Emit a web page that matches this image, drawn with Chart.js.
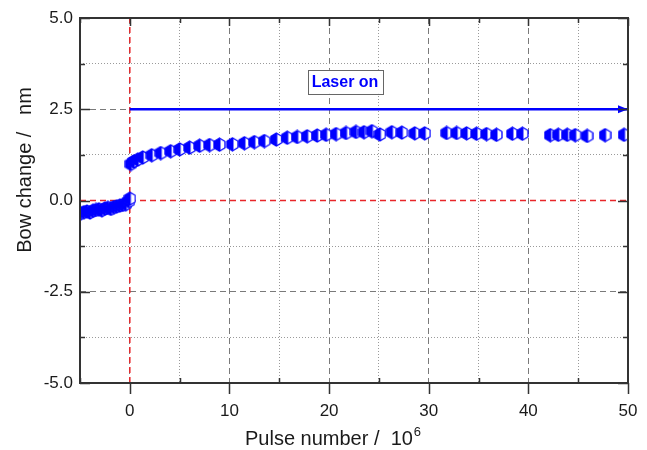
<!DOCTYPE html>
<html>
<head>
<meta charset="utf-8">
<script src="https://cdn.jsdelivr.net/npm/chart.js@4.4.0/dist/chart.umd.min.js"></script>
<style>
  html, body { margin: 0; padding: 0; background: #fff; }
  #wrap { width: 647px; height: 450px; position: relative; }
</style>
</head>
<body>
<div id="wrap"><canvas id="bowChart"></canvas></div>
<script>
// pulse number (10^6) and bow change (nm)
const preX = [-4.9, -4.6, -4.3, -4.0, -3.7, -3.4, -3.1, -2.8, -2.5, -2.2, -1.9, -1.6, -1.3, -1.0, -0.7, -0.4, -0.1, 0.0];
const preY = [-0.35, -0.32, -0.30, -0.33, -0.28, -0.26, -0.24, -0.27, -0.22, -0.20, -0.23, -0.18, -0.16, -0.14, -0.12, -0.10, -0.02, 0.05];

const postX = [0.1, 0.4, 0.8, 1.3, 2.2, 3.1, 4.1, 5.0, 6.0, 7.0, 8.0, 9.0, 10.3, 11.5, 12.5, 13.5, 14.7, 15.8, 16.8, 17.8, 18.8, 19.7, 20.7, 21.7, 22.7, 23.5, 24.3, 25.1, 26.3, 27.3, 28.6, 29.6, 31.8, 32.8, 33.8, 34.8, 35.8, 36.8, 38.4, 39.4, 42.2, 43.0, 43.9, 44.7, 45.9, 47.7, 49.6];
const postY = [1.00, 1.07, 1.12, 1.18, 1.24, 1.30, 1.35, 1.40, 1.45, 1.50, 1.52, 1.53, 1.54, 1.57, 1.60, 1.63, 1.67, 1.72, 1.74, 1.76, 1.78, 1.80, 1.82, 1.85, 1.88, 1.87, 1.90, 1.81, 1.87, 1.86, 1.84, 1.84, 1.85, 1.85, 1.84, 1.83, 1.82, 1.80, 1.83, 1.83, 1.79, 1.80, 1.80, 1.79, 1.77, 1.79, 1.80];

const xMin = -5, xMax = 50;
const yMin = -5, yMax = 5;
const laserLine = [{ x: 0, y: 2.5 }, { x: 50, y: 2.5 }];
const laserText = 'Laser on';

function toPoints(xs, ys) {
    return xs.map(function (x, i) { return { x: x, y: ys[i] }; });
}

// half filled hexagon marker
function makeMarker() {
    const c = document.createElement('canvas');
    c.width = 13; c.height = 15;
    const g = c.getContext('2d');
    const cx = 6.5, cy = 7.5, rx = 5.5, ry = 6.5;
    const pts = [[cx, cy - ry], [cx + rx, cy - ry / 2], [cx + rx, cy + ry / 2], [cx, cy + ry], [cx - rx, cy + ry / 2], [cx - rx, cy - ry / 2]];
    g.beginPath();
    pts.forEach(function (p, i) { if (i) g.lineTo(p[0], p[1]); else g.moveTo(p[0], p[1]); });
    g.closePath();
    g.fillStyle = '#ffffff';
    g.fill();
    g.save();
    g.clip();
    g.fillStyle = '#0000ff';
    g.fillRect(0, 0, cx + 1, c.height);
    g.restore();
    g.lineWidth = 1.3;
    g.strokeStyle = '#0000ff';
    g.stroke();
    return c;
}

function isMajor(v, step) {
    return Math.abs(v / step - Math.round(v / step)) < 1e-6;
}

const framePlugin = {
    id: 'frame',
    afterDraw: function (chart) {
        const ctx = chart.ctx;
        const a = chart.chartArea;
        const xs = chart.scales.x, ys = chart.scales.y;
        ctx.save();
        // arrow head
        const ax = xs.getPixelForValue(laserLine[1].x), ay = ys.getPixelForValue(laserLine[1].y);
        ctx.fillStyle = '#0000ff';
        ctx.beginPath();
        ctx.moveTo(ax, ay);
        ctx.lineTo(ax - 10, ay - 4);
        ctx.lineTo(ax - 10, ay + 4);
        ctx.closePath();
        ctx.fill();

        // frame
        ctx.strokeStyle = '#333333';
        ctx.lineWidth = 2;
        ctx.strokeRect(a.left, a.top, a.right - a.left, a.bottom - a.top);
        ctx.lineWidth = 1.5;
        ctx.beginPath();
        for (let v = xMin; v <= xMax + 1e-9; v += 5) {
            const px = Math.round(xs.getPixelForValue(v)) + 0.5;
            const major = isMajor(v, 10);
            if (major) {
                ctx.moveTo(px, a.bottom); ctx.lineTo(px, a.bottom + 11);
                ctx.moveTo(px, a.top); ctx.lineTo(px, a.top + 8);
            } else {
                ctx.moveTo(px, a.bottom); ctx.lineTo(px, a.bottom - 5);
                ctx.moveTo(px, a.top); ctx.lineTo(px, a.top + 5);
            }
        }
        for (let v = yMin; v <= yMax + 1e-9; v += 1.25) {
            const py = Math.round(ys.getPixelForValue(v)) + 0.5;
            const len = isMajor(v, 2.5) ? 10 : 5;
            ctx.moveTo(a.left, py); ctx.lineTo(a.left + len, py);
            ctx.moveTo(a.right, py); ctx.lineTo(a.right - len, py);
        }
        ctx.stroke();

        // laser label
        const lx = xs.getPixelForValue(21.6), ly = ys.getPixelForValue(3.25);
        ctx.font = 'bold 16px "Liberation Sans", Arial, sans-serif';
        ctx.textAlign = 'center';
        ctx.textBaseline = 'middle';
        const w = ctx.measureText(laserText).width;
        ctx.fillStyle = '#ffffff';
        ctx.fillRect(lx - w / 2 - 4, ly - 12, w + 8, 24);
        ctx.strokeStyle = '#666666';
        ctx.lineWidth = 1;
        ctx.strokeRect(Math.round(lx - w / 2 - 4) + 0.5, Math.round(ly - 12) + 0.5, Math.round(w + 8), 24);
        ctx.fillStyle = '#0000ff';
        ctx.fillText(laserText, lx, ly + 1);

        // axis titles
        ctx.fillStyle = '#1a1a1a';
        ctx.font = '20px "Liberation Sans", Arial, sans-serif';
        ctx.textAlign = 'left';
        ctx.textBaseline = 'alphabetic';
        const t1 = 'Pulse number /  10';
        ctx.fillText(t1, 245, 445);
        const t1w = ctx.measureText(t1).width;
        ctx.font = '13px "Liberation Sans", Arial, sans-serif';
        ctx.fillText('6', 245 + t1w + 1, 436);

        ctx.font = '20px "Liberation Sans", Arial, sans-serif';
        ctx.translate(31, 170);
        ctx.rotate(-Math.PI / 2);
        ctx.textAlign = 'center';
        ctx.fillText('Bow change /   nm', 0, 0);
        ctx.restore();
    }
};

const tickFont = { family: '"Liberation Sans", Arial, sans-serif', size: 17 };

new Chart(document.getElementById('bowChart'), {
    type: 'scatter',
    data: {
        datasets: [
            {
                label: 'before',
                data: toPoints(preX, preY),
                pointStyle: makeMarker(),
                order: 0
            },
            {
                label: 'after',
                data: toPoints(postX, postY),
                pointStyle: makeMarker(),
                order: 0
            },
            {
                label: 'laser',
                type: 'line',
                data: laserLine,
                borderColor: '#0000ff',
                borderWidth: 2.5,
                pointRadius: 0,
                order: 1
            },
            {
                label: 'x0',
                type: 'line',
                data: [{ x: 0, y: yMin }, { x: 0, y: yMax }],
                borderColor: '#e8262a',
                borderWidth: 1.5,
                borderDash: [6, 4],
                pointRadius: 0,
                order: 2
            },
            {
                label: 'y0',
                type: 'line',
                data: [{ x: xMin, y: 0 }, { x: xMax, y: 0 }],
                borderColor: '#e8262a',
                borderWidth: 1.5,
                borderDash: [6, 4],
                pointRadius: 0,
                order: 2
            }
        ]
    },
    options: {
        responsive: true,
        maintainAspectRatio: false,
        animation: false,
        layout: { padding: { top: 18, right: 19, left: 0, bottom: 0 } },
        plugins: {
            legend: { display: false },
            tooltip: { enabled: false }
        },
        scales: {
            x: {
                type: 'linear',
                min: xMin,
                max: xMax,
                afterFit: function (s) { s.height = 67; s.paddingLeft = 0; s.paddingRight = 0; },
                ticks: {
                    stepSize: 5,
                    padding: 18,
                    color: '#1a1a1a',
                    font: tickFont,
                    maxRotation: 0,
                    callback: function (v) { return isMajor(v, 10) ? String(v) : ''; }
                },
                grid: {
                    drawTicks: false,
                    color: function (c) { return c.tick && isMajor(c.tick.value, 10) ? '#7a7a7a' : '#9a9a9a'; },
                    lineWidth: 1
                },
                border: {
                    display: false,
                    dash: function (c) { return c.tick ? (isMajor(c.tick.value, 10) ? [6, 4] : [1, 2]) : []; }
                }
            },
            y: {
                type: 'linear',
                min: yMin,
                max: yMax,
                afterFit: function (s) { s.width = 80; s.paddingTop = 0; s.paddingBottom = 0; },
                ticks: {
                    stepSize: 1.25,
                    padding: 7,
                    color: '#1a1a1a',
                    font: tickFont,
                    callback: function (v) { return isMajor(v, 2.5) ? v.toFixed(1) : ''; }
                },
                grid: {
                    drawTicks: false,
                    color: function (c) { return c.tick && isMajor(c.tick.value, 2.5) ? '#7a7a7a' : '#9a9a9a'; },
                    lineWidth: 1
                },
                border: {
                    display: false,
                    dash: function (c) { return c.tick ? (isMajor(c.tick.value, 2.5) ? [6, 4] : [1, 2]) : []; }
                }
            }
        }
    },
    plugins: [framePlugin]
});
</script>
</body>
</html>
